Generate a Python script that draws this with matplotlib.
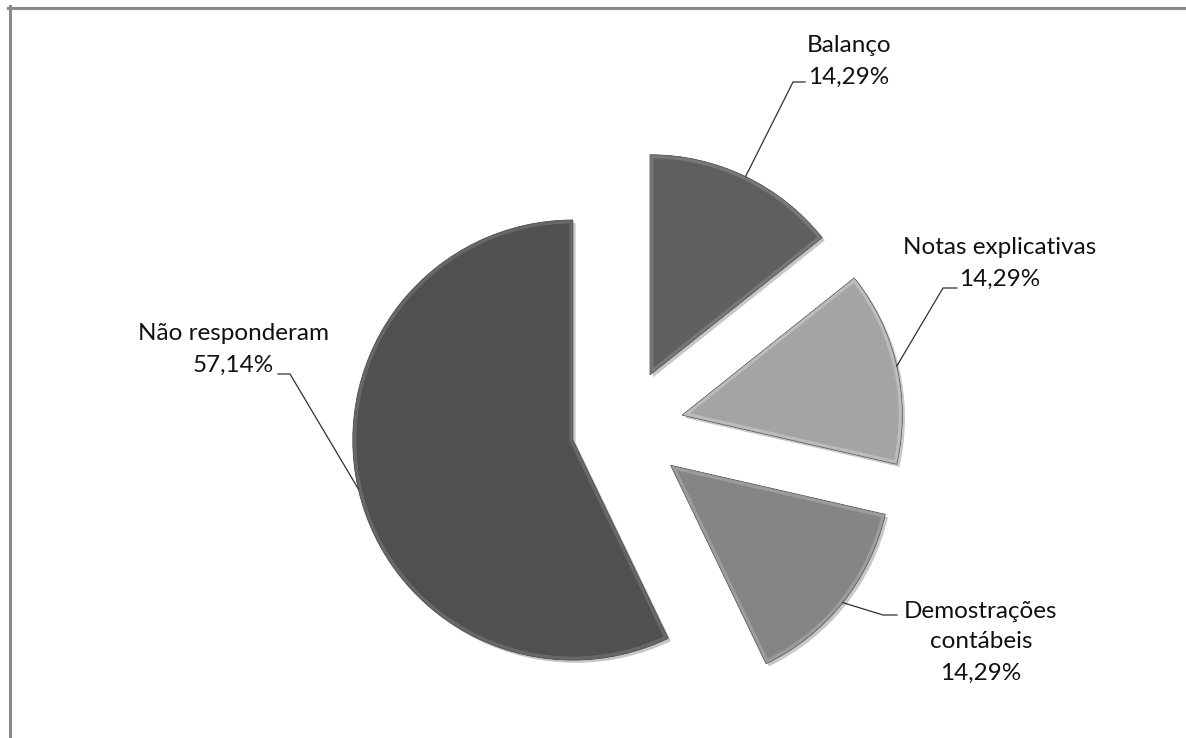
import numpy as np
import matplotlib.pyplot as plt
import matplotlib.patheffects as pe
import matplotlib.patches as mpatches
from matplotlib.lines import Line2D

plt.rcParams['font.family'] = ['Lato', 'DejaVu Sans']

categories = ['Balanço', 'Notas explicativas', 'Demostrações\ncontábeis', 'Não responderam']
shares = [14.29, 14.29, 14.29, 57.14]
colors = ['#5f5f5f', '#a4a4a4', '#858585', '#505050']
bevel_colors = ['#8c8c8c', '#d0d0d0', '#b0b0b0', '#7a7a7a']
explode = [0.27, 0.27, 0.27, 0.24]

W, H = 1186, 738
CX, CY, R = 624.3, 428.3, 220.0   # pie centre and radius in pixels


def to_data(x, y):
    return (x - CX) / R, (CY - y) / R


fig = plt.figure(figsize=(W / 100, H / 100), dpi=100)
ax = fig.add_axes([0, 0, 1, 1])

wedges, _ = ax.pie(shares, explode=explode, colors=colors, startangle=90,
                   counterclock=False, radius=1.0)
# pie() resets the limits, so fix the pixel scale afterwards
ax.set_xlim(to_data(0, 0)[0], to_data(W, 0)[0])
ax.set_ylim(to_data(0, H)[1], to_data(0, 0)[1])
ax.set_aspect('equal')
ax.axis('off')

for w, bc in zip(wedges, bevel_colors):
    w.set_edgecolor('#3c3c3c')
    w.set_linewidth(0.6)
    w.set_path_effects([pe.SimplePatchShadow(offset=(2.0, -2.0), shadow_rgbFace='#000000', alpha=0.22),
                        pe.Normal()])
    # soft inner bevel band
    band = mpatches.Wedge(w.center, w.r, w.theta1, w.theta2, facecolor='none',
                          edgecolor=bc, linewidth=5, alpha=0.55, zorder=w.get_zorder() + 0.1)
    ax.add_patch(band)
    band.set_clip_path(w)

# label text (pixel centre of first line), end of short horizontal, elbow point
label_pos = [(849, 46), (1000, 248), (981, 611), (233, 334)]
elbows = [((805, 82), (793, 82)), ((957, 288), (943, 288)),
          ((897, 615), (883, 615)), ((278, 374), (290, 374))]
line_step = 31

for w, name, share, (lx, ly), (p0, p1) in zip(wedges, categories, shares, label_pos, elbows):
    text = f"{name}\n{share:.2f}%".replace('.', ',')
    lines = text.split('\n')
    for i, t in enumerate(lines):
        tx, ty = to_data(lx, ly + i * line_step)
        ax.text(tx, ty, t, ha='center', va='center', fontsize=17.5, color='#111111')
    mid = np.deg2rad(0.5 * (w.theta1 + w.theta2))
    ax_, ay_ = w.center[0] + w.r * np.cos(mid), w.center[1] + w.r * np.sin(mid)
    a = to_data(*p0)
    b = to_data(*p1)
    ax.plot([a[0], b[0], ax_], [a[1], b[1], ay_], color='#303030', lw=0.9,
            solid_joinstyle='miter')

# chart area border (top and left visible)
fig.add_artist(Line2D([8 / W, 1], [1 - 7.5 / H, 1 - 7.5 / H], color='#8a8a8a', lw=2.2,
                      transform=fig.transFigure))
fig.add_artist(Line2D([9.5 / W, 9.5 / W], [0, 1 - 6 / H], color='#8a8a8a', lw=2.2,
                      transform=fig.transFigure))

fig.savefig('out.png', dpi=100, facecolor='white')
